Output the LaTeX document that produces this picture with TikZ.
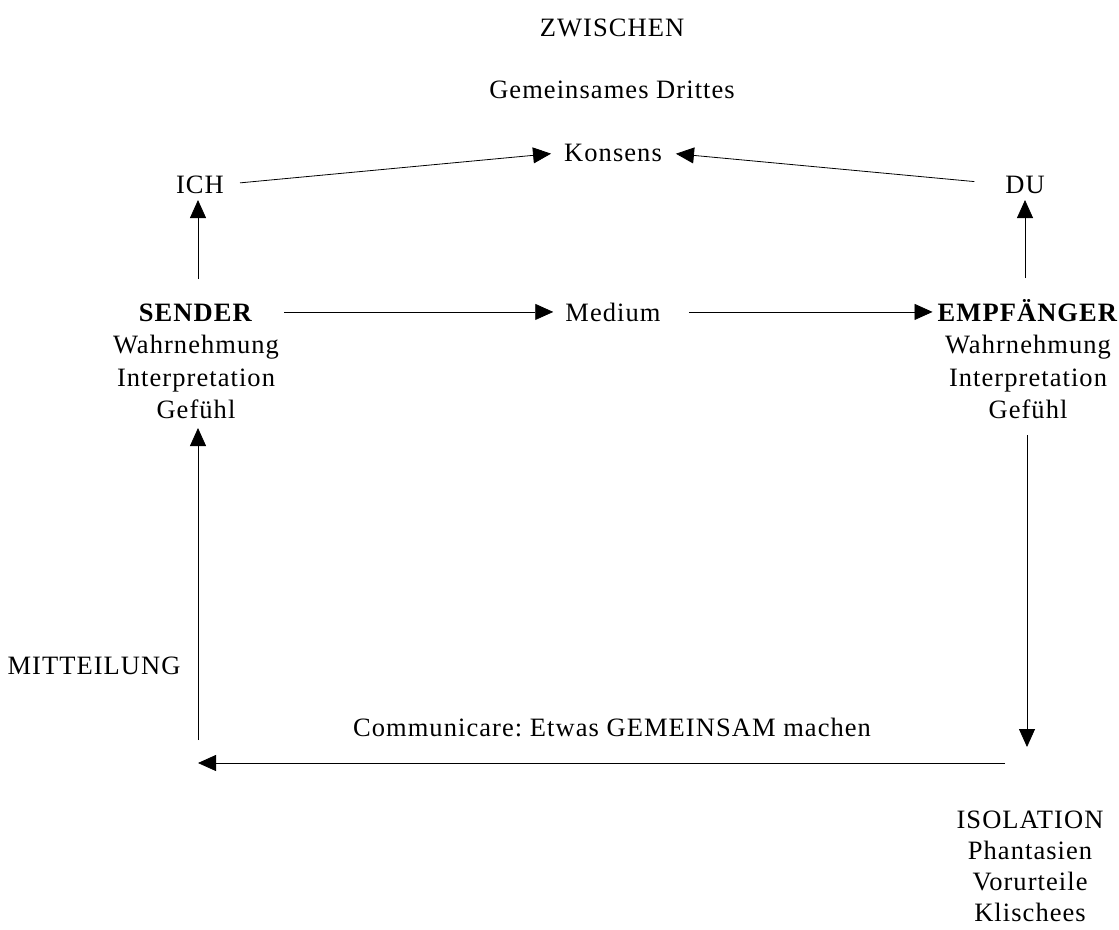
\documentclass[tikz,border=0pt]{standalone}
\usepackage{fontspec}
\setmainfont{Liberation Serif}[LetterSpace=4]
\usetikzlibrary{arrows.meta}
\frenchspacing
\begin{document}
\begin{tikzpicture}[x=1pt,y=-1pt,
  lbl/.style={inner sep=0pt, anchor=base, align=center, font=\fontsize{26.5}{32.5}\selectfont},
  arr/.style={line width=0.8pt, -{Triangle[length=18pt,width=16pt]}}]
\useasboundingbox (0,0) rectangle (1119,929);
\node[lbl] (zw) at (612,36) {ZWISCHEN};
\node[lbl] (gd) at (612,98) {Gemeinsames Drittes};
\node[lbl] (kons) at (613,161) {Konsens};
\node[lbl] (ich) at (200,193) {ICH};
\node[lbl] (du) at (1025,193) {DU};
\node[lbl] (sender) at (196,418.5) {\textbf{SENDER}\\Wahrnehmung\\Interpretation\\Gef\"uhl};
\node[lbl] (medium) at (613,321) {Medium};
\node[lbl] (empf) at (1028,418.5) {\textbf{EMPF\"ANGER}\\Wahrnehmung\\Interpretation\\Gef\"uhl};
\node[lbl] (mitt) at (94,674) {MITTEILUNG};
\node[lbl] (comm) at (612,736) {Communicare: Etwas GEMEINSAM machen};
\node[lbl, font=\fontsize{26.5}{31}\selectfont] (iso) at (1030,921) {ISOLATION\\Phantasien\\Vorurteile\\Klischees};
% free ends
\coordinate (rtip) at (1027,747);
\coordinate (bstart) at (1005,763);
\coordinate (btip) at (198,763);
\coordinate (lstart) at (198,740);
% top arrows
\draw[arr, shorten <=16pt, shorten >=13pt] (ich.east) -- (kons.west);
\draw[arr, shorten <=31pt, shorten >=14pt] (du.west) -- (kons.east);
% verticals to ICH / DU
\draw[arr] (198,279) -- (198,200);
\draw[arr] (1025,278) -- (1025,200);
% horizontals through Medium
\draw[arr, shorten <=5pt, shorten >=12pt] (sender.north east |- medium.west) -- (medium.west);
\draw[arr, shorten <=28pt, shorten >=5pt] (medium.east) -- (empf.north west |- medium.east);
% loop
\draw[arr] (1027,435) -- (rtip);
\draw[arr] (bstart) -- (btip);
\draw[arr] (lstart) -- (198,428);
\end{tikzpicture}
\end{document}
